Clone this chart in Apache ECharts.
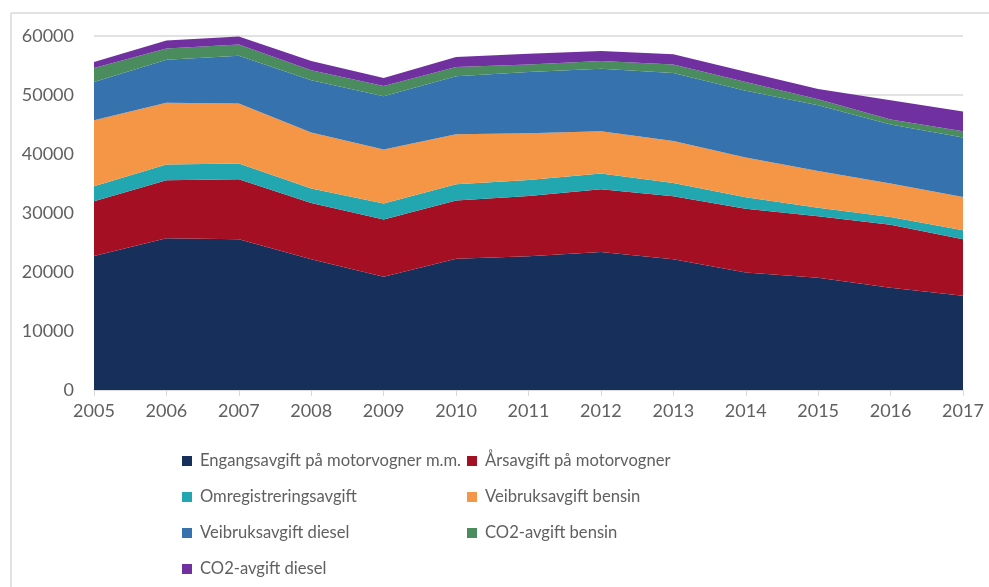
<!DOCTYPE html>
<html>
<head>
<meta charset="utf-8">
<script src="https://cdn.jsdelivr.net/npm/echarts@6/dist/echarts.min.js"></script>
<style>
html,body{margin:0;padding:0;background:#fff;}
#c{width:989px;height:587px;}
</style>
</head>
<body>
<div id="c"></div>
<script>
const years = ['2005','2006','2007','2008','2009','2010','2011','2012','2013','2014','2015','2016','2017'];
const seriesNames = ['Engangsavgift på motorvogner m.m.','Årsavgift på motorvogner','Omregistreringsavgift','Veibruksavgift bensin','Veibruksavgift diesel','CO2-avgift bensin','CO2-avgift diesel'];
const engangsavgift = [22700,25700,25560,22180,19180,22230,22690,23410,22180,19920,19010,17320,15970];
const arsavgift = [9300,9850,10160,9530,9720,9880,10210,10620,10660,10780,10450,10670,9590];
const omregistrering = [2540,2660,2660,2440,2710,2770,2710,2650,2260,1970,1410,1350,1530];
const veibruksBensin = [11170,10490,10160,9480,9140,8460,7900,7170,7110,6720,6260,5650,5640];
const veibruksDiesel = [6490,7290,8120,8850,9020,9820,10380,10610,11510,11350,11120,9990,10050];
const co2Bensin = [2370,1910,1920,1700,1750,1580,1300,1290,1470,1460,1050,850,1070];
const co2Diesel = [1010,1350,1350,1570,1360,1690,1810,1690,1700,1750,1700,3270,3340];
const yTicks = [0,10000,20000,30000,40000,50000,60000];

const values = [engangsavgift, arsavgift, omregistrering, veibruksBensin, veibruksDiesel, co2Bensin, co2Diesel];
const colors = ['#17305b','#a50f24','#22a6b0','#f59647','#3672ae','#4a8c5e','#7030a0'];

const FONT = 'Lato';
const TXT = '#606060';

const legendPos = [
  [182, 451],[467, 451],
  [182, 487],[467, 487],
  [182, 523],[467, 523],
  [182, 559]
];

const chart = echarts.init(document.getElementById('c'), null, {renderer:'canvas'});
chart.setOption({
  animation:false,
  backgroundColor:'#fff',
  textStyle:{fontFamily:FONT},
  graphic:[
    {type:'line', shape:{x1:11, y1:13, x2:989, y2:13}, style:{stroke:'#d9d9d9', lineWidth:1.5}, silent:true},
    {type:'line', shape:{x1:11, y1:13, x2:11, y2:587}, style:{stroke:'#d9d9d9', lineWidth:1.5}, silent:true}
  ],
  legend: seriesNames.map((n,i)=>({
    data:[n],
    left:legendPos[i][0], top:legendPos[i][1],
    itemWidth:10, itemHeight:10, itemGap:0,
    icon:'rect',
    textStyle:{fontFamily:FONT, fontSize:16.6, color:TXT, lineHeight:20, padding:[0,0,0,3]},
    padding:0
  })),
  grid:{left:94, right:26, top:36, bottom:197, containLabel:false},
  xAxis:{
    type:'category', data:years, boundaryGap:false,
    axisLine:{lineStyle:{color:'#d9d9d9', width:1.5}},
    axisTick:{show:true, length:6, lineStyle:{color:'#d9d9d9'}},
    axisLabel:{color:TXT, fontSize:18, fontFamily:FONT, margin:12}
  },
  yAxis:{
    type:'value', min:0, max:60000, interval:10000,
    axisLine:{show:false}, axisTick:{show:false},
    splitLine:{lineStyle:{color:'#d9d9d9', width:1.5}},
    axisLabel:{color:TXT, fontSize:18, fontFamily:FONT, margin:20,
      formatter:v=> yTicks.includes(v) ? String(v) : ''}
  },
  series: seriesNames.map((n,i)=>({
    name:n, type:'line', stack:'total', data:values[i],
    symbol:'none', showSymbol:false,
    lineStyle:{width:0},
    areaStyle:{color:colors[i], opacity:1},
    itemStyle:{color:colors[i]},
    emphasis:{disabled:true}
  }))
});
</script>
</body>
</html>
